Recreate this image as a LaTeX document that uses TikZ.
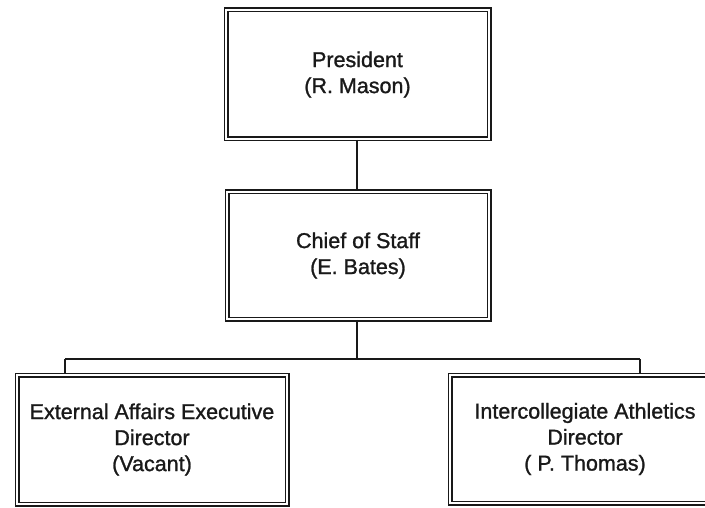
\documentclass[tikz,border=0pt]{standalone}
\usepackage{fontspec}
\setmainfont[BoldFont=Liberation Sans, BoldFeatures={FakeBold=1.2}]{Liberation Sans}
\begin{document}
\begin{tikzpicture}[x=1pt,y=-1pt,
  orgbox/.style={draw=black!90, double, double distance=1.8pt, line width=1.6pt,
    inner sep=0pt, align=center, font=\fontsize{21.5}{26}\selectfont\bfseries,
    text=black!90},
  link/.style={line width=2pt, draw=black!90}]
\useasboundingbox (0,0) rectangle (705,508);
\clip (0,0) rectangle (705,508);
\node[orgbox, minimum width=263pt, minimum height=129pt] (pres) at (357.5,74.5) {President\\(R. Mason)};
\node[orgbox, minimum width=262pt, minimum height=127pt] (chief) at (358,255.5) {Chief of Staff\\(E. Bates)};
\node[orgbox, minimum width=270pt, minimum height=129pt] (ext) at (152,439.5) {External Affairs Executive\\Director\\(Vacant)};
\node[orgbox, minimum width=270pt, minimum height=128pt] (ath) at (585,439) {Intercollegiate Athletics\\Director\\( P. Thomas)};
\coordinate (j) at (357,359);
\coordinate (bl) at (65,359);
\coordinate (br) at (640,359);
\draw[link] (pres.south -| j) -- (chief.north -| j);
\draw[link] (chief.south -| j) -- (j);
\draw[link] (bl) -- (br);
\draw[link] (bl) -- (bl |- ext.north);
\draw[link] (br) -- (br |- ath.north);
\end{tikzpicture}
\end{document}
